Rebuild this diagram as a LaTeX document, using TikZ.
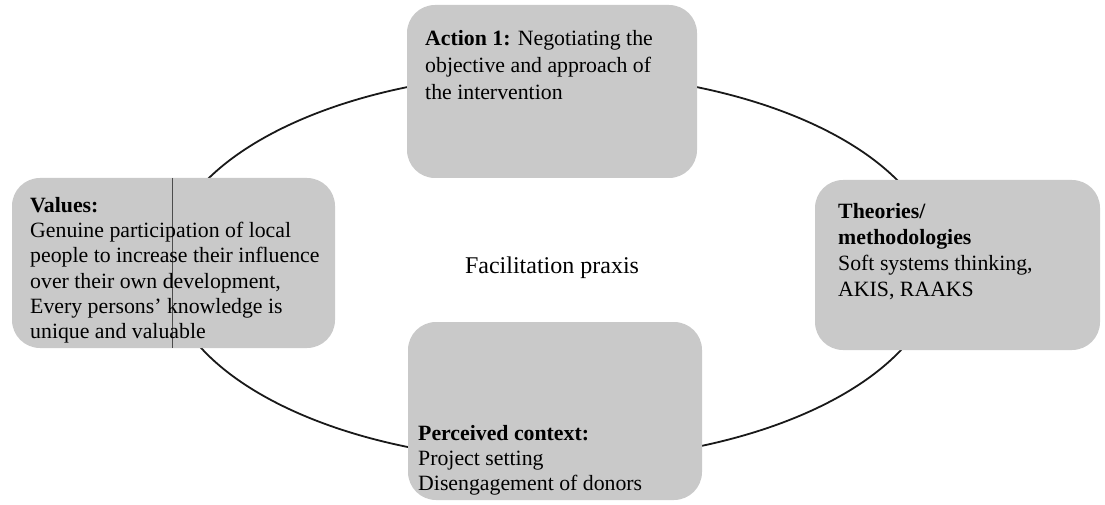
\documentclass[tikz,border=0pt]{standalone}
\usepackage{fontspec}
\setmainfont{Liberation Serif}
\begin{document}
\begin{tikzpicture}[x=1pt,y=-1pt,
  card/.style={fill=black!21, draw=none, rounded corners=28pt},
  cardtext/.style={anchor=north west, inner sep=0pt, align=left,
    font=\fontsize{21.8}{25.3}\selectfont},
  cycle/.style={line width=1.8pt, black!90}]
\useasboundingbox (0,0) rectangle (1105,505);
% the praxis cycle
\draw[cycle] (552,267) ellipse [x radius=386, y radius=194];
% four cards around the cycle
\path[card] (407,5) rectangle (697,178);
\path[card] (12,178) rectangle (335,348);
\path[card] (815,180) rectangle (1100,350);
\path[card] (408,322) rectangle (702,500);
% thin fold line across the values card
\draw[black!70, line width=0.6pt] (172,178) -- (172,348);
\node[cardtext, font=\fontsize{21.8}{27}\selectfont] (action) at (425,30)
  {\textbf{Action 1:} Negotiating the\\objective and approach of\\the intervention};
\node[cardtext] (values) at (30,197)
  {\textbf{Values:}\\Genuine participation of local\\people to increase their influence\\over their own development,\\Every persons' knowledge is\\unique and valuable};
\node[cardtext, font=\fontsize{21.8}{26.2}\selectfont] (theories) at (838,203)
  {\textbf{Theories/}\\\textbf{methodologies}\\Soft systems thinking,\\AKIS, RAAKS};
\node[cardtext] (context) at (418,425)
  {\textbf{Perceived context:}\\Project setting\\Disengagement of donors};
\node[font=\fontsize{24}{28}\selectfont] (praxis) at (552,268) {Facilitation praxis};
\end{tikzpicture}
\end{document}
